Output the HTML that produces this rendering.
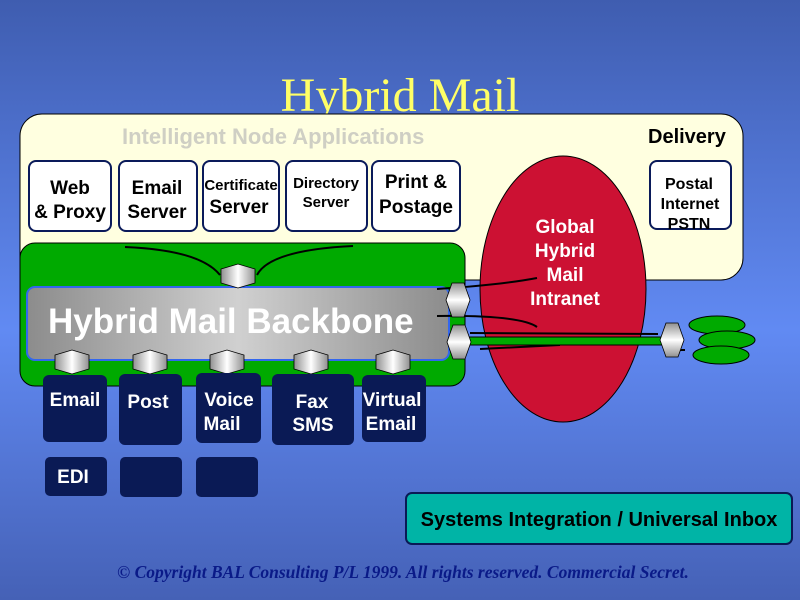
<!DOCTYPE html>
<html><head><meta charset="utf-8"><style>
html,body{margin:0;padding:0;width:800px;height:600px;overflow:hidden}
svg{display:block}
text{font-family:"Liberation Sans",Arial,sans-serif;font-weight:bold}
</style></head><body>
<svg width="800" height="600" viewBox="0 0 800 600" xmlns="http://www.w3.org/2000/svg">
<defs>
<linearGradient id="bg" x1="0" y1="0" x2="0" y2="1">
<stop offset="0" stop-color="#3f5db0"/>
<stop offset="0.55" stop-color="#618af3"/>
<stop offset="1" stop-color="#4561b6"/>
</linearGradient>
<linearGradient id="bb" x1="0" y1="0" x2="1" y2="0">
<stop offset="0" stop-color="#8c8c8c"/>
<stop offset="0.5" stop-color="#d0d0d0"/>
<stop offset="1" stop-color="#8c8c8c"/>
</linearGradient>
<linearGradient id="hx" x1="0" y1="0" x2="1" y2="0">
<stop offset="0" stop-color="#909090"/>
<stop offset="0.5" stop-color="#ffffff"/>
<stop offset="1" stop-color="#909090"/>
</linearGradient>
<linearGradient id="hy" x1="0" y1="0" x2="0" y2="1">
<stop offset="0" stop-color="#909090"/>
<stop offset="0.5" stop-color="#ffffff"/>
<stop offset="1" stop-color="#909090"/>
</linearGradient>
<g id="vh"><polygon points="-17,-7 0,-12 17,-7 17,7 0,12 -17,7" fill="url(#hx)" stroke="#000" stroke-width="0.8"/></g>
<g id="hh"><polygon points="-6,-17 6,-17 12,0 6,17 -6,17 -12,0" fill="url(#hy)" stroke="#000" stroke-width="0.8"/></g>
</defs>
<rect width="800" height="600" fill="url(#bg)"/>
<text x="400" y="111" text-anchor="middle" style="font-family:'Liberation Serif',serif;font-weight:normal" font-size="48" fill="#ffff66">Hybrid Mail</text>
<rect x="20" y="114" width="723" height="166" rx="22" fill="#ffffe0" stroke="#000" stroke-width="1"/>
<text x="122" y="144" font-size="22" fill="#cfcfc4">Intelligent Node Applications</text>
<text x="648" y="143" font-size="20" fill="#000">Delivery</text>
<g fill="#fff" stroke="#0a1a5a" stroke-width="2">
<rect x="29" y="161" width="82" height="70" rx="7"/>
<rect x="119" y="161" width="78" height="70" rx="7"/>
<rect x="203" y="161" width="76" height="70" rx="7"/>
<rect x="286" y="161" width="81" height="70" rx="7"/>
<rect x="372" y="161" width="88" height="70" rx="7"/>
<rect x="650" y="161" width="81" height="68" rx="7"/>
</g>
<g font-size="19" fill="#000" text-anchor="middle">
<text x="70" y="194">Web</text><text x="70" y="218">&amp; Proxy</text>
<text x="157" y="194">Email</text><text x="157" y="218">Server</text>
<text x="241" y="190" font-size="15" font-weight="normal">Certificate</text><text x="239" y="213">Server</text>
<text x="326" y="188" font-size="15" font-weight="normal">Directory</text><text x="326" y="207" font-size="15" font-weight="normal">Server</text>
<text x="416" y="188">Print &amp;</text><text x="416" y="213">Postage</text>
<text x="689" y="189" font-size="16" font-weight="normal">Postal</text>
<text x="690" y="209" font-size="16" font-weight="normal">Internet</text>
<text x="689" y="229" font-size="16" font-weight="normal">PSTN</text>
</g>
<rect x="20" y="243" width="445" height="143" rx="15" fill="#00aa00" stroke="#000" stroke-width="1"/>
<ellipse cx="563" cy="289" rx="83" ry="133" fill="#cc1133" stroke="#000" stroke-width="1"/>
<g font-size="19" fill="#fff" text-anchor="middle">
<text x="565" y="233">Global</text><text x="565" y="257">Hybrid</text><text x="565" y="281">Mail</text><text x="565" y="305">Intranet</text>
</g>
<rect x="27" y="287" width="422" height="73" rx="8" fill="url(#bb)" stroke="#3366ee" stroke-width="2"/>
<text x="48" y="333" font-size="35" fill="#fff">Hybrid Mail Backbone</text>
<g fill="none" stroke="#000" stroke-width="2">
<path d="M125 247 Q200 250 220 275"/>
<path d="M353 246 Q270 250 257 275"/>
<path d="M437 289 Q500 285 537 278"/>
<path d="M437 316 Q520 315 537 327"/>
<path d="M470 333 L658 334"/>
<path d="M480 349 L560 345"/>
<path d="M672 350 L685 350"/>
</g>
<rect x="465" y="337" width="200" height="8" fill="#00aa00" stroke="#000" stroke-width="1"/>
<use href="#vh" x="238" y="276"/>
<use href="#vh" x="72" y="362"/>
<use href="#vh" x="150" y="362"/>
<use href="#vh" x="227" y="362"/>
<use href="#vh" x="311" y="362"/>
<use href="#vh" x="393" y="362"/>
<use href="#hh" x="458" y="300"/>
<use href="#hh" x="459" y="342"/>
<use href="#hh" x="672" y="340"/>
<g fill="#00aa00" stroke="#000" stroke-width="1">
<ellipse cx="717" cy="325" rx="28" ry="9"/>
<ellipse cx="727" cy="340" rx="28" ry="9"/>
<ellipse cx="721" cy="355" rx="28" ry="9"/>
</g>
<g fill="#0a1a55">
<rect x="43" y="375" width="64" height="67" rx="6"/>
<rect x="119" y="374" width="63" height="71" rx="6"/>
<rect x="196" y="373" width="65" height="70" rx="6"/>
<rect x="272" y="374" width="82" height="71" rx="6"/>
<rect x="362" y="375" width="64" height="67" rx="6"/>
<rect x="45" y="457" width="62" height="39" rx="5"/>
<rect x="120" y="457" width="62" height="40" rx="5"/>
<rect x="196" y="457" width="62" height="40" rx="5"/>
</g>
<g font-size="19" fill="#fff" text-anchor="middle">
<text x="75" y="406">Email</text>
<text x="148" y="408">Post</text>
<text x="229" y="406">Voice</text><text x="222" y="430">Mail</text>
<text x="312" y="408">Fax</text><text x="313" y="431">SMS</text>
<text x="392" y="406">Virtual</text><text x="391" y="430">Email</text>
<text x="73" y="483">EDI</text>
</g>
<rect x="406" y="493" width="386" height="51" rx="6" fill="#00b4a6" stroke="#0a1a55" stroke-width="2"/>
<text x="599" y="526" font-size="20" fill="#000" text-anchor="middle">Systems  Integration / Universal Inbox</text>
<text x="403" y="578" text-anchor="middle" font-size="17.5" fill="#0a1a88" style="font-family:'Liberation Serif',serif;font-style:italic;font-weight:bold">© Copyright BAL Consulting P/L 1999. All rights reserved. Commercial Secret.</text>
</svg>
</body></html>
